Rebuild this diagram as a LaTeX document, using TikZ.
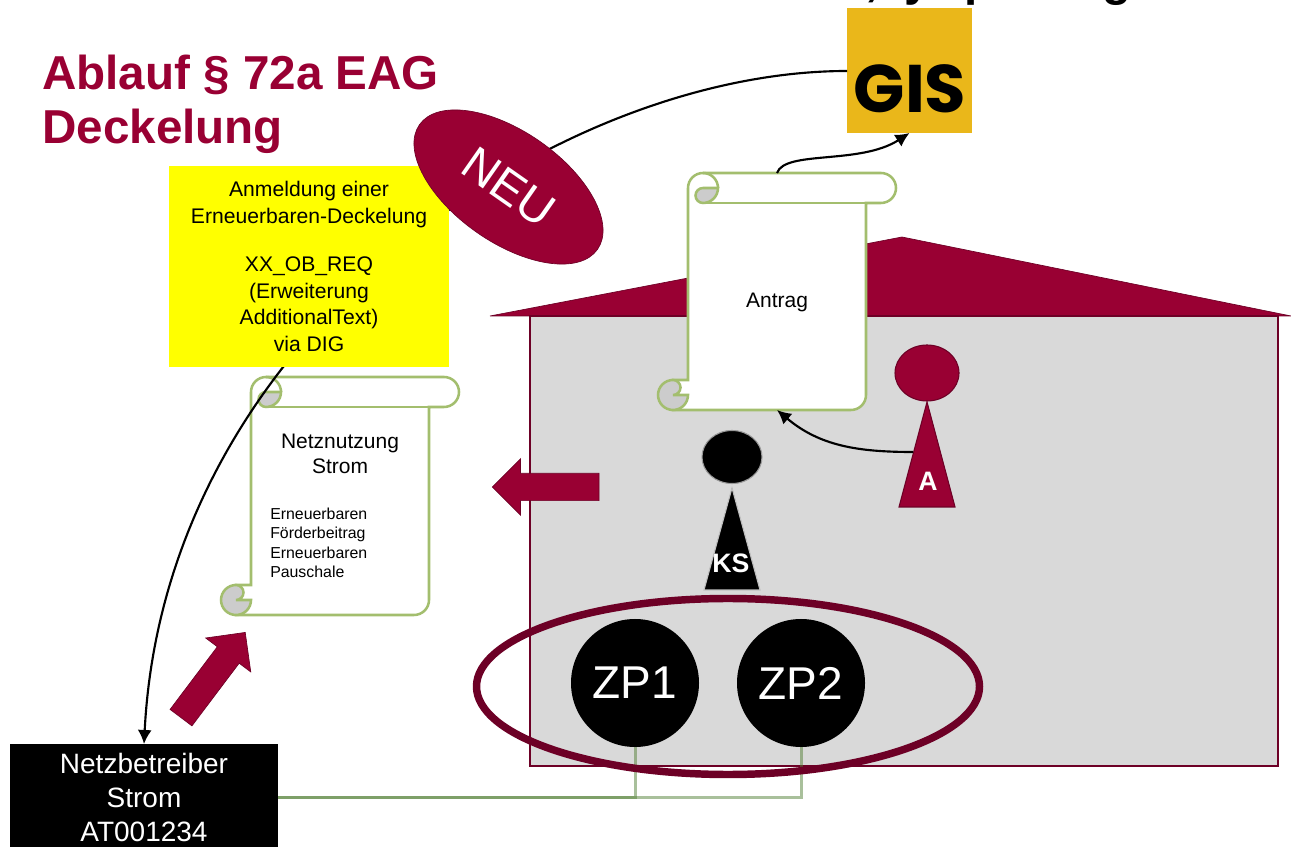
\documentclass[tikz,border=0pt]{standalone}
\usepackage{fontspec}
\setmainfont{Liberation Sans}
\newfontfamily\gisfont{Poppins}
\usetikzlibrary{shapes.geometric,shapes.arrows,arrows.meta}
\definecolor{housered}{RGB}{153, 0, 51}
\definecolor{darkred}{RGB}{109, 0, 38}
\definecolor{housegrey}{RGB}{217, 217, 217}
\definecolor{scrollgreen}{RGB}{163, 190, 110}
\definecolor{curlgrey}{RGB}{204, 204, 204}
\definecolor{metergreen}{RGB}{84, 129, 55}
\definecolor{gisyellow}{RGB}{234, 183, 26}
\definecolor{noteyellow}{RGB}{255, 255, 0}
\tikzset{
  scrollline/.style={line width=1.9pt, draw=scrollgreen},
  scrollarea/.style={inner sep=0pt, outer sep=0pt},
  flowarrow/.style={line width=1.6pt, -{Latex[length=10.5pt, width=10.5pt]}},
  blockarrow/.style={single arrow, single arrow head extend=10.9pt,
    single arrow tip angle=90, minimum width=42pt, minimum height=80pt,
    inner xsep=0pt, inner ysep=10pt, fill=housered, draw=darkred, line width=0.5pt},
  metercircle/.style={circle, fill=black, minimum size=96pt, inner sep=0pt,
    text=white, font=\fontsize{34.5}{36}\selectfont},
  meterline/.style={line width=2.25pt, draw=metergreen, opacity=0.5},
}
% left, top, right of body, bottom
\newcommand{\scrollshape}[4]{
  \filldraw[scrollline, fill=white]
    (#1,#2-15) arc[start angle=180, end angle=90, radius=15]
    -- (#3+15,#2) arc[start angle=90, end angle=-90, radius=15]
    -- (#3,#2-30) -- (#3,#4+15) arc[start angle=0, end angle=-90, radius=15]
    -- (#1-15,#4) -- (#1-15,#4+30) -- (#1,#4+30) -- cycle;
  \draw[scrollline] (#1+15,#2) arc[start angle=90, end angle=0, radius=15];
  \filldraw[scrollline, fill=curlgrey]
    (#1+30,#2-15) arc[start angle=0, end angle=-90, radius=15]
    arc[start angle=270, end angle=90, radius=7.5] -- cycle;
  \draw[scrollline] (#1+15,#2-30) -- (#3,#2-30);
  \filldraw[scrollline, fill=curlgrey]
    (#1-15,#4+15) -- (#1,#4+15) arc[start angle=0, end angle=-270, radius=15]
    arc[start angle=90, end angle=-90, radius=7.5] -- cycle;
}
\begin{document}
\begin{tikzpicture}[x=0.75pt, y=0.75pt]
  \useasboundingbox (0,0) rectangle (1291,846);

  % house
  \filldraw[fill=housered, draw=darkred, line width=0.5pt]
    (490,530) -- (902,609) -- (1291,530) -- cycle;
  \filldraw[fill=housegrey, draw=darkred, line width=1.1pt]
    (530,530) rectangle (1278,80);

  % title
  \node[anchor=north west, inner sep=0pt, align=left, text=housered,
    font=\fontsize{35.7}{40.5}\selectfont\bfseries] (title) at (42,791)
    {Ablauf § 72a EAG\\Deckelung};

  % cut off line on top of the page
  \node[anchor=base west, inner sep=0pt, font=\fontsize{35.6}{36}\selectfont\bfseries]
    (topline) at (865,850.5) {,\hspace{19.25pt}y\hspace{25.5pt}p\hspace{81.75pt}g};

  % GIS logo
  \node[fill=gisyellow, minimum size=93.75pt, inner sep=0pt, outer sep=0pt] (gis)
    at (909.5,775.5) {};
  \node[inner sep=0pt, font=\gisfont\fontsize{50.5}{51}\selectfont\bfseries] (gistext)
    at (910,757) {GIS};

  % scrolls
  \scrollshape{688}{673}{866}{436}
  \node[scrollarea, minimum width=133.5pt, minimum height=177.75pt] (antrag)
    at (777,554.5) {};
  \node[font=\fontsize{15.75}{19}\selectfont] (antragtext) at (777,544) {Antrag};

  \scrollshape{251}{469}{429}{231}
  \node[scrollarea, minimum width=133.5pt, minimum height=178.5pt] (netznutzung)
    at (340,350) {};
  \node[align=center, font=\fontsize{15.75}{18.75}\selectfont] (netztext)
    at (340,392.5) {Netznutzung\\Strom};
  \node[anchor=west, inner sep=0pt, align=left, font=\fontsize{11.9}{14.6}\selectfont]
    (posten) at (270,303) {Erneuerbaren\\Förderbeitrag\\Erneuerbaren\\Pauschale};

  % Netzbetreiber
  \node[fill=black, text=white, minimum width=201pt, minimum height=79.5pt,
    inner sep=0pt, outer sep=0pt, align=center,
    font=\fontsize{21}{25.5}\selectfont] (nb) at (144,49)
    {Netzbetreiber\\Strom\\AT001234};

  % curve from GIS, runs under note and NEU
  \draw[flowarrow] (gis.west |- 0,775) .. controls (560,775) and (165,516) .. (nb.north);

  % note
  \node[fill=noteyellow, minimum width=210pt, minimum height=150.75pt, inner sep=0pt,
    align=center, font=\fontsize{15.85}{20}\selectfont] (note) at (309,579.5)
    {Anmeldung einer\\Erneuerbaren-Deckelung\\[16pt]XX\_OB\_REQ\\(Erweiterung\\AdditionalText)\\via DIG};

  % NEU
  \node[ellipse, rotate=-35, fill=housered, draw=darkred, line width=0.5pt,
    minimum width=163pt, minimum height=83pt, inner sep=0pt, text=white,
    font=\fontsize{35.6}{36}\selectfont] (neu) at (508.5,659) {NEU};

  % Antrag to GIS
  \draw[flowarrow] (antrag.north) .. controls (785,696) and (860,681) .. (gis.south);

  % persons
  \filldraw[fill=black, draw=white!60!black, line width=0.8pt]
    (732,389) ellipse (30 and 26.5);
  \coordinate (ks1) at (732,358);
  \coordinate (ks2) at (760,256);
  \coordinate (ks3) at (704,256);
  \filldraw[fill=black, draw=white!75!black, line width=0.8pt] (ks1)--(ks2)--(ks3)--cycle;
  \node[inner sep=0pt, text=white, font=\fontsize{20}{20}\selectfont\bfseries] (kstext)
    at (731,283) {KS};

  \filldraw[fill=housered, draw=darkred, line width=0.8pt]
    (927,473) ellipse (32 and 28);
  \coordinate (a1) at (927,444);
  \coordinate (a2) at (955,339);
  \coordinate (a3) at (899,339);
  \coordinate (astart) at (913,394);
  \filldraw[fill=housered, draw=darkred, line width=0.8pt] (a1)--(a2)--(a3)--cycle;
  \node[inner sep=0pt, text=white, font=\fontsize{20}{20}\selectfont\bfseries] (atext)
    at (928,365) {A};
  \draw[flowarrow] (astart) to[out=180, in=-40] (antrag.south);

  % block arrows
  \node[blockarrow, rotate=180] (pfeilhaus) at (552.5,359) {};
  \node[blockarrow, rotate=53] (pfeilnetz) at (209,165.5) {};

  % meters
  \node[metercircle] (zp1) at (635,163) {\raisebox{-2.2pt}{ZP1}};
  \node[metercircle] (zp2) at (801,163) {\raisebox{-2.2pt}{ZP2}};
  \draw[meterline] (nb.east) -| (zp1.south);
  \draw[meterline] (nb.east) -| (zp2.south);
  \draw[draw=darkred, line width=5.6pt] (728,159.5) ellipse (251.5 and 88);
\end{tikzpicture}
\end{document}
